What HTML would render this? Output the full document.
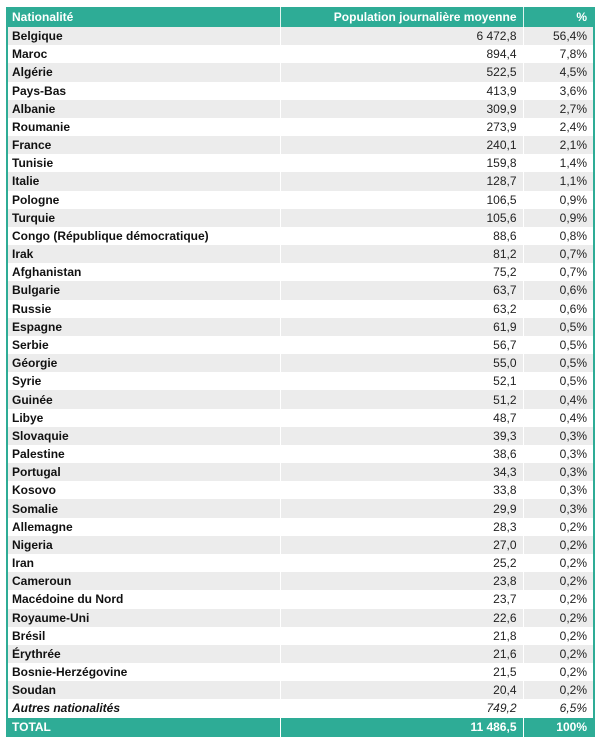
<!DOCTYPE html>
<html><head><meta charset="utf-8"><style>
body{margin:0;background:#fff;width:600px;height:743px;overflow:hidden;font-family:"Liberation Sans",sans-serif;}
table{position:absolute;left:6px;top:7px;width:587px;border-collapse:collapse;table-layout:fixed;border-left:2px solid #2eac96;border-right:2px solid #2eac96;}
td,th{height:18.18px;padding:0 6px;font-size:12px;line-height:12px;box-sizing:border-box;white-space:nowrap;}
th{background:#2eac96;color:#fff;font-weight:bold;height:20px;}
tbody tr:nth-child(odd) td{background:#ececec;}
td:first-child{font-weight:bold;color:#111;text-align:left;padding-left:4px;}
td.n{text-align:right;color:#222;border-left:1px solid #fff;}
th.n{text-align:right;border-left:1px solid #e0f3ef;}
tr.other td{font-style:italic;}
tbody tr.total td{background:#2eac96;color:#fff;font-weight:bold;height:19px;}
</style></head><body>
<table>
<colgroup><col style="width:273px"><col style="width:243px"><col style="width:71px"></colgroup>
<thead><tr><th style="text-align:left;padding-left:4px">Nationalité</th><th class="n">Population journalière moyenne</th><th class="n">%</th></tr></thead>
<tbody id="tb"></tbody>
</table>
<script>
const names=["Belgique","Maroc","Algérie","Pays-Bas","Albanie","Roumanie","France","Tunisie","Italie","Pologne","Turquie","Congo (République démocratique)","Irak","Afghanistan","Bulgarie","Russie","Espagne","Serbie","Géorgie","Syrie","Guinée","Libye","Slovaquie","Palestine","Portugal","Kosovo","Somalie","Allemagne","Nigeria","Iran","Cameroun","Macédoine du Nord","Royaume-Uni","Brésil","Érythrée","Bosnie-Herzégovine","Soudan","Autres nationalités","TOTAL"];
const pops=["6 472,8","894,4","522,5","413,9","309,9","273,9","240,1","159,8","128,7","106,5","105,6","88,6","81,2","75,2","63,7","63,2","61,9","56,7","55,0","52,1","51,2","48,7","39,3","38,6","34,3","33,8","29,9","28,3","27,0","25,2","23,8","23,7","22,6","21,8","21,6","21,5","20,4","749,2","11 486,5"];
const pcts=["56,4%","7,8%","4,5%","3,6%","2,7%","2,4%","2,1%","1,4%","1,1%","0,9%","0,9%","0,8%","0,7%","0,7%","0,6%","0,6%","0,5%","0,5%","0,5%","0,5%","0,4%","0,4%","0,3%","0,3%","0,3%","0,3%","0,3%","0,2%","0,2%","0,2%","0,2%","0,2%","0,2%","0,2%","0,2%","0,2%","0,2%","6,5%","100%"];
const tb=document.getElementById('tb');
names.forEach((n,i)=>{
 const tr=document.createElement('tr');
 
 
 if(i===names.length-1)tr.className='total';
 else if(i===names.length-2)tr.className='other';
 [n,pops[i],pcts[i]].forEach((v,j)=>{
  const td=document.createElement('td');
  td.textContent=v;
  if(j>0)td.className='n';
  
  
  tr.appendChild(td);
 });
 tb.appendChild(tr);
});
</script>
</body></html>
